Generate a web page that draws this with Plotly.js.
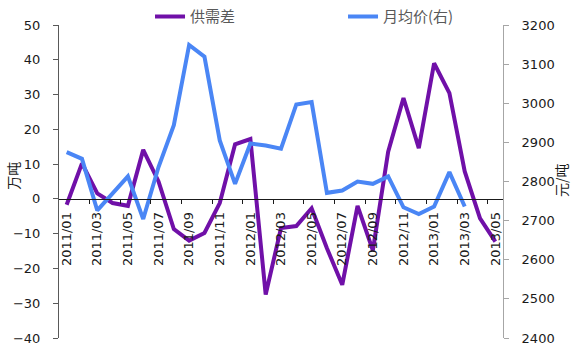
<!DOCTYPE html>
<html>
<head>
<meta charset="utf-8">
<script src="https://cdn.plot.ly/plotly-3.0.1.min.js"></script>
<style>
  html, body { margin: 0; padding: 0; background: #fff; }
  #chart { width: 582px; height: 356px; }
</style>
</head>
<body>
<div id="chart"></div>
<script>
// Categories (months)
const months = [
  "2011/01","2011/02","2011/03","2011/04","2011/05","2011/06","2011/07","2011/08","2011/09","2011/10",
  "2011/11","2011/12","2012/01","2012/02","2012/03","2012/04","2012/05","2012/06","2012/07","2012/08",
  "2012/09","2012/10","2012/11","2012/12","2013/01","2013/02","2013/03","2013/04","2013/05"
];
// 供需差 (万吨), left axis
const supplyGap = [
  -1.7, 10.2, 1.6, -1.2, -2.0, 14.1, 5.0, -8.7, -12.0, -9.8,
  -1.2, 15.7, 17.2, -27.5, -8.4, -7.8, -2.7, -14.2, -24.7, -2.0,
  -14.8, 13.6, 29.0, 14.6, 39.0, 30.4, 7.9, -5.6, -12.3
];
// 月均价 (元/吨), right axis
const avgPrice = [
  2875, 2858, 2726, 2770, 2813, 2704, 2837, 2944, 3149, 3119,
  2905, 2794, 2897, 2892, 2884, 2997, 3003, 2771, 2777, 2800,
  2794, 2813, 2734, 2717, 2736, 2824, 2736, null, null
];
const seriesNames = ["供需差", "月均价(右)"];
const leftTitle = "万吨";
const rightTitle = "元/吨";

const idx = months.map((_, i) => i);
const labelIdx = idx.filter(i => i % 2 === 0);
const labelText = labelIdx.map(i => months[i]);
const boundaryTicks = idx.filter(i => i % 2 === 1 && i < months.length - 1).map(i => i + 0.5);

const tickFont = { family: "DejaVu Sans, sans-serif", size: 13, color: "#1a1a1a" };
const cjk = "Noto Sans CJK SC, sans-serif";

const traces = [
  {
    x: idx, y: supplyGap, name: seriesNames[0], type: "scatter", mode: "lines",
    line: { color: "#7010A8", width: 4 }, yaxis: "y", hoverinfo: "none"
  },
  {
    x: idx, y: avgPrice, name: seriesNames[1], type: "scatter", mode: "lines",
    line: { color: "#4A86F5", width: 4 }, yaxis: "y2", connectgaps: false, hoverinfo: "none"
  }
];

const layout = {
  width: 582, height: 356,
  margin: { l: 59, r: 79, t: 25, b: 18, autoexpand: false },
  paper_bgcolor: "#fff", plot_bgcolor: "#fff",
  showlegend: true,
  legend: {
    orientation: "h", x: 0.205, xanchor: "left", y: 1.026, yanchor: "middle",
    font: { family: cjk, size: 15, color: "#595959" },
    entrywidth: 148, entrywidthmode: "pixels",
    bgcolor: "rgba(0,0,0,0)", itemclick: false
  },
  xaxis: {
    type: "linear", range: [-0.5, months.length - 0.5],
    anchor: "free", position: 4 / 9,
    tickmode: "array", tickvals: labelIdx, ticktext: labelText,
    tickangle: -90, ticks: "", showgrid: false, zeroline: false,
    showline: true, linecolor: "#1a1a1a", linewidth: 1,
    tickfont: tickFont, ticklabelstandoff: 7,
    minor: { tickmode: "array", tickvals: boundaryTicks, ticks: "outside", ticklen: 4, tickcolor: "#1a1a1a", showgrid: false }
  },
  yaxis: {
    range: [-40, 50], dtick: 10, tick0: 0,
    ticks: "outside", ticklen: 5, tickcolor: "#595959",
    showline: true, linecolor: "#595959", linewidth: 1,
    showgrid: false, zeroline: false, tickfont: tickFont, ticklabelstandoff: 10
  },
  yaxis2: {
    range: [2400, 3200], dtick: 100, tick0: 2400,
    overlaying: "y", side: "right", anchor: "free", position: 1,
    ticks: "outside", ticklen: 5, tickcolor: "#a6a6a6",
    showline: true, linecolor: "#a6a6a6", linewidth: 1,
    showgrid: false, zeroline: false, tickfont: tickFont, ticklabelstandoff: 10
  },
  annotations: [
    { text: leftTitle, xref: "paper", yref: "paper", x: -0.1036, xanchor: "center", y: 0.518, yanchor: "middle", textangle: -90,
      showarrow: false, font: { family: cjk, size: 14, color: "#1a1a1a" } },
    { text: rightTitle, xref: "paper", yref: "paper", x: 1.1306, xanchor: "center", y: 0.505, yanchor: "middle", textangle: -90,
      showarrow: false, font: { family: cjk, size: 14, color: "#1a1a1a" } }
  ]
};

Plotly.newPlot("chart", traces, layout, { staticPlot: true, displayModeBar: false });
</script>
</body>
</html>
